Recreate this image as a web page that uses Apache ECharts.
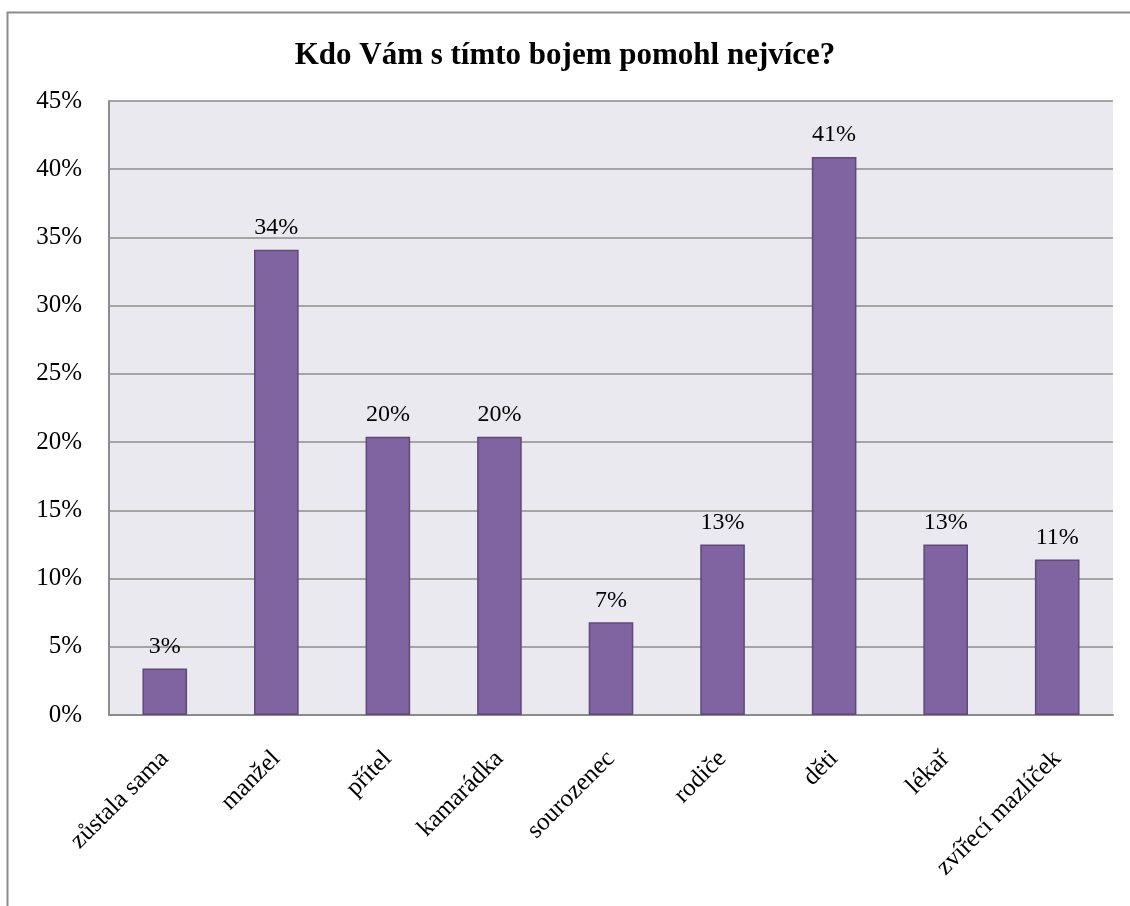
<!DOCTYPE html>
<html>
<head>
<meta charset="utf-8">
<script src="https://cdn.jsdelivr.net/npm/echarts@6/dist/echarts.min.js"></script>
<style>
  html, body { margin: 0; padding: 0; background: #fff; }
  #chart { width: 1130px; height: 906px; }
</style>
</head>
<body>
<div id="chart"></div>
<script>
// Who helped most with the struggle — share of respondents per helper
const categories = ['zůstala sama', 'manžel', 'přítel', 'kamarádka', 'sourozenec', 'rodiče', 'děti', 'lékař', 'zvířecí mazlíček'];
const shares = [3.4, 34.1, 20.4, 20.4, 6.8, 12.5, 40.9, 12.5, 11.4];
const titleText = 'Kdo Vám s tímto bojem pomohl nejvíce?';

const serif = '"Liberation Serif", "DejaVu Serif", serif';
const chart = echarts.init(document.getElementById('chart'));

chart.setOption({
  backgroundColor: '#ffffff',
  animation: false,
  title: {
    text: titleText,
    left: 'center',
    top: 35,
    textStyle: { fontFamily: serif, fontSize: 31, fontWeight: 'bold', color: '#000' }
  },
  graphic: [{
    type: 'rect',
    shape: { x: 7.5, y: 12.5, width: 1140, height: 920 },
    style: { fill: 'none', stroke: '#8c8c8c', lineWidth: 2 },
    silent: true,
    z: -1
  }],
  grid: {
    left: 109, right: 17, top: 101, bottom: 191,
    show: true,
    backgroundColor: '#ebe9f0',
    borderWidth: 0
  },
  xAxis: {
    type: 'category',
    data: categories,
    axisLine: { show: true, lineStyle: { color: '#8c8c8c', width: 2 } },
    axisTick: { show: false },
    axisLabel: {
      rotate: 45,
      interval: 0,
      margin: 40,
      fontFamily: serif,
      fontSize: 25,
      color: '#000'
    }
  },
  yAxis: {
    type: 'value',
    min: 0,
    max: 45,
    interval: 5,
    axisLine: { show: true, lineStyle: { color: '#8c8c8c', width: 2 } },
    axisTick: { show: false },
    splitLine: { show: true, lineStyle: { color: '#8c8c8c', width: 1.5 } },
    axisLabel: {
      formatter: '{value}%',
      margin: 27,
      fontFamily: serif,
      fontSize: 25,
      color: '#000'
    }
  },
  series: [{
    type: 'bar',
    data: shares,
    barWidth: '40%',
    itemStyle: { color: '#8064a2', borderColor: '#5f497a', borderWidth: 1.5 },
    label: {
      show: true,
      position: 'top',
      distance: 10,
      formatter: p => Math.round(p.value) + '%',
      fontFamily: serif,
      fontSize: 24,
      color: '#000'
    }
  }]
});
</script>
</body>
</html>
